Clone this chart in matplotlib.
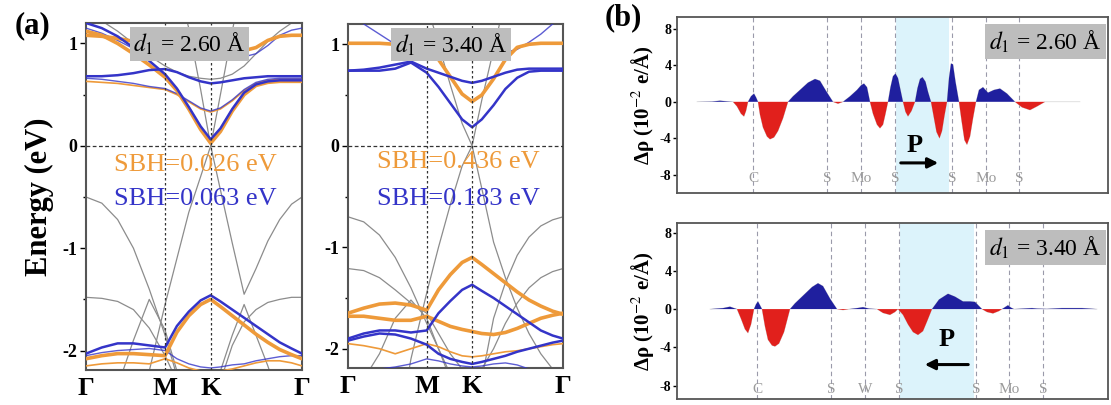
import numpy as np
import matplotlib.pyplot as plt

plt.rcParams['font.family'] = ['Liberation Serif', 'DejaVu Serif']
plt.rcParams['mathtext.fontset'] = 'stix'

ORANGE = '#ee9a3a'
BLUE = '#3434c8'
GRAY = '#8c8c8c'

# ---- (a) band structures, k-path G-M-K-G ----
k_path = [0.0, 0.2, 0.4, 0.6, 0.8, 1.0, 1.15, 1.3, 1.45, 1.577,
          1.7, 1.85, 2.0, 2.15, 2.3, 2.45, 2.6, 2.732]
k_ticks = [0.0, 1.0, 1.577, 2.732]
k_labels = ['Γ', 'M', 'K', 'Γ']

# d1 = 2.60 A
orange_260_thick = [
    [1.12, 1.08, 1.0, 0.9, 0.79, 0.67, 0.54, 0.36, 0.16, 0.026, 0.14, 0.34, 0.5, 0.59, 0.62, 0.63, 0.63, 0.63],
    [1.08, 1.07, 1.05, 1.02, 0.98, 0.93, 0.92, 0.95, 1.0, 1.03, 1.0, 0.96, 0.93, 0.96, 1.03, 1.07, 1.08, 1.08],
    [-2.08, -2.05, -2.03, -2.03, -2.04, -2.05, -1.82, -1.66, -1.55, -1.5, -1.57, -1.66, -1.75, -1.84, -1.92, -1.99, -2.04, -2.08],
]
orange_260_thin = [
    [0.63, 0.62, 0.61, 0.59, 0.57, 0.55, 0.5, 0.43, 0.36, 0.33, 0.36, 0.44, 0.54, 0.61, 0.64, 0.65, 0.65, 0.65],
    [-2.15, -2.13, -2.12, -2.12, -2.13, -2.08, -2.12, -2.17, -2.2, -2.21, -2.2, -2.18, -2.15, -2.12, -2.1, -2.1, -2.12, -2.15],
]
blue_260_thick = [
    [0.68, 0.68, 0.69, 0.71, 0.74, 0.75, 0.72, 0.67, 0.63, 0.61, 0.62, 0.64, 0.66, 0.67, 0.68, 0.68, 0.68, 0.68],
    [1.2, 1.15, 1.07, 0.96, 0.83, 0.7, 0.56, 0.38, 0.19, 0.063, 0.17, 0.36, 0.52, 0.6, 0.63, 0.64, 0.64, 0.64],
    [-2.03, -1.97, -1.93, -1.93, -1.95, -1.97, -1.76, -1.62, -1.51, -1.46, -1.52, -1.6, -1.68, -1.76, -1.84, -1.92, -1.98, -2.03],
]
blue_260_thin = [
    [0.66, 0.65, 0.63, 0.61, 0.58, 0.56, 0.51, 0.44, 0.37, 0.34, 0.37, 0.45, 0.55, 0.62, 0.65, 0.66, 0.66, 0.66],
    [-2.05, -2.02, -2.0, -1.99, -1.98, -2.0, -2.08, -2.13, -2.16, -2.17, -2.16, -2.14, -2.13, -2.1, -2.08, -2.06, -2.05, -2.05],
    [1.15, 1.1, 1.03, 0.95, 0.88, 0.84, 0.86, 0.92, 0.98, 1.02, 0.98, 0.92, 0.87, 0.9, 0.98, 1.08, 1.13, 1.15],
]
gray_260 = [
    [-0.5, -0.56, -0.72, -1.0, -1.4, -1.85, -2.25, -2.5, -2.5, -2.5, -2.5, -2.5, -2.5, -2.5, -2.5, -2.5, -2.5, -2.5],
    [-3.0, -3.0, -3.0, -3.0, -2.2, -1.55, -1.1, -0.65, -0.3, 0.0, 0.5, 1.12, 1.7, 2.2, 2.5, 2.5, 2.5, 2.5],
    [2.5, 2.5, 2.5, 2.5, 2.2, 1.9, 1.6, 1.15, 0.55, 0.0, -0.43, -0.95, -1.45, -1.2, -0.93, -0.72, -0.57, -0.5],
    [-1.48, -1.49, -1.52, -1.6, -1.78, -2.05, -2.3, -2.5, -2.5, -2.5, -2.3, -1.95, -1.72, -1.6, -1.53, -1.5, -1.48, -1.48],
    [-2.5, -2.5, -2.35, -1.9, -1.5, -1.8, -2.2, -2.5, -2.5, -2.5, -2.2, -1.85, -1.55, -1.85, -2.15, -2.5, -2.5, -2.5],
    [1.3, 1.22, 1.12, 1.0, 0.88, 0.78, 0.72, 0.68, 0.66, 0.65, 0.66, 0.7, 0.78, 0.9, 1.02, 1.12, 1.2, 1.25],
]

# d1 = 3.40 A
orange_340_thick = [
    [1.01, 1.01, 1.01, 1.0, 0.98, 0.94, 0.85, 0.68, 0.51, 0.436, 0.5, 0.66, 0.85, 0.97, 1.0, 1.01, 1.01, 1.01],
    [-1.65, -1.6, -1.56, -1.55, -1.57, -1.62, -1.42, -1.27, -1.15, -1.1, -1.17, -1.26, -1.35, -1.44, -1.52, -1.58, -1.63, -1.66],
    [-1.68, -1.68, -1.7, -1.72, -1.72, -1.68, -1.73, -1.78, -1.81, -1.83, -1.85, -1.86, -1.84, -1.8, -1.75, -1.7, -1.67, -1.65],
]
orange_340_thin = [
    [-1.95, -1.97, -2.0, -2.05, -2.0, -1.95, -1.98, -2.03, -2.07, -2.08, -2.07, -2.05, -2.03, -2.02, -2.0, -1.98, -1.96, -1.95],
]
blue_340_thick = [
    [0.74, 0.74, 0.74, 0.76, 0.82, 0.72, 0.58, 0.42, 0.26, 0.183, 0.26, 0.4, 0.56, 0.67, 0.73, 0.74, 0.74, 0.74],
    [0.74, 0.75, 0.77, 0.8, 0.83, 0.76, 0.72, 0.68, 0.64, 0.62, 0.64, 0.68, 0.72, 0.75, 0.76, 0.76, 0.76, 0.76],
    [-1.9, -1.85, -1.82, -1.82, -1.84, -1.82, -1.65, -1.53, -1.42, -1.37, -1.43, -1.5, -1.58, -1.66, -1.74, -1.82, -1.87, -1.9],
    [-1.92, -1.88, -1.85, -1.86, -1.9, -1.96, -2.05, -2.1, -2.13, -2.15, -2.13, -2.1, -2.07, -2.03, -2.0, -1.97, -1.94, -1.92],
]
blue_340_thin = [
    [1.3, 1.2, 1.1, 1.0, 0.92, 0.87, 0.88, 0.95, 1.05, 1.1, 1.05, 0.97, 0.92, 0.95, 1.02, 1.1, 1.2, 1.25],
    [-2.25, -2.22, -2.2, -2.18, -2.15, -2.1, -2.12, -2.15, -2.17, -2.18, -2.17, -2.15, -2.14, -2.16, -2.2, -2.22, -2.24, -2.25],
]
gray_340 = [
    [-3.0, -3.0, -3.0, -3.0, -2.1, -1.45, -1.0, -0.58, -0.2, 0.0, 0.45, 0.95, 1.45, 2.0, 2.5, 2.5, 2.5, 2.5],
    [2.5, 2.5, 2.5, 2.3, 1.9, 1.4, 1.0, 0.6, 0.22, 0.0, -0.42, -0.95, -1.3, -1.6, -1.85, -2.05, -2.2, -2.3],
    [-0.7, -0.75, -0.88, -1.1, -1.4, -1.75, -2.0, -2.25, -2.4, -2.45, -2.3, -1.7, -1.35, -1.08, -0.9, -0.79, -0.73, -0.7],
    [-1.21, -1.23, -1.3, -1.42, -1.55, -1.65, -1.85, -2.05, -2.2, -2.3, -2.2, -2.0, -1.75, -1.55, -1.4, -1.3, -1.24, -1.21],
    [-2.4, -2.3, -2.05, -1.7, -1.52, -1.7, -2.0, -2.3, -2.5, -2.5, -2.5, -2.5, -2.5, -2.5, -2.5, -2.5, -2.5, -2.5],
]

# ---- (b) plane-averaged charge difference ----
z_260 = [2.0, 3.5, 4.3, 5.0, 5.6, 6.0, 6.4, 6.7, 6.9, 7.1, 7.4, 7.7, 7.9, 8.1,
         8.3, 8.6, 9.0, 9.3, 9.7, 10.1, 10.6, 11.1, 11.6, 12.3, 13.1, 13.8, 14.3, 14.9, 15.6,
         16.1, 16.6, 17.3, 18.0, 18.4, 18.7, 19.0, 19.3, 19.6, 20.0, 20.3, 20.6, 20.85, 21.1,
         21.35, 21.6, 21.85, 22.1, 22.35, 22.6, 22.85, 23.1, 23.45, 23.8, 24.05, 24.3, 24.55, 24.85, 25.1, 25.4,
         25.65, 25.95, 26.25, 26.5, 26.75, 27.0, 27.2, 27.4, 27.6, 27.85, 28.2, 28.45, 28.75, 29.0, 29.3, 29.6, 29.9,
         30.2, 30.6, 31.1, 31.7, 32.3, 33.0, 33.8, 34.5, 35.3, 36.0, 36.8, 40.3]
drho_260 = [0, 0.03, 0.12, 0.05, 0, -0.5, -1.3, -1.6, -1.0, 0, 0.6, 0.9, 0.5, 0,
            -1.4, -2.8, -3.8, -4.1, -3.9, -3.2, -1.8, 0, 0.6, 1.3, 2.1, 2.5, 2.3, 1.2, 0,
            -0.2, 0, 0.6, 1.3, 1.8, 2.0, 1.6, 0, -1.3, -2.5, -2.9, -2.5, -1.3, 0,
            1.6, 2.8, 3.1, 2.6, 1.3, 0, -1.1, -1.6, -1.0, 0, 1.5, 2.5, 2.7, 2.2, 1.1, 0,
            -1.5, -3.3, -4.0, -3.2, -1.5, 0, 2.6, 4.2, 4.1, 2.2, 0, -2.0, -4.2, -4.7, -3.8, -1.8, 0,
            1.3, 1.6, 1.0, 1.3, 1.45, 0.9, 0, -0.6, -0.9, -0.5, 0, 0]
z_340 = [3.3, 4.6, 5.3, 5.7, 6.0, 6.4, 6.8, 7.1, 7.4, 7.7, 7.9, 8.1, 8.3, 8.5,
         8.8, 9.1, 9.5, 9.8, 10.2, 10.7, 11.3, 11.8, 12.6, 13.5, 14.1, 14.6, 15.3, 16.0,
         16.6, 17.2, 18.0, 18.6, 19.2, 20.0, 20.6, 21.3, 21.8, 22.1,
         22.6, 23.1, 23.6, 24.1, 24.6, 25.0, 25.5, 26.2, 27.1, 27.8, 28.6, 29.3, 29.8, 30.5,
         31.0, 31.6, 32.2, 32.5, 32.8, 33.1, 33.4, 33.7, 34.6, 35.5, 36.0, 37.0,
         38.5, 40.5, 42.0]
drho_340 = [0, 0.1, 0.25, 0.1, 0, -1.0, -2.1, -2.5, -1.6, 0, 0.5, 0.8, 0.4, 0,
            -1.8, -3.2, -3.8, -3.9, -3.6, -2.4, 0, 0.6, 1.4, 2.3, 2.7, 2.4, 1.1, 0,
            -0.1, 0, 0.1, 0.2, 0.05, 0, -0.4, -0.6, -0.3, 0,
            -0.6, -1.6, -2.4, -2.7, -2.3, -1.3, 0, 1.0, 1.6, 1.3, 0.8, 0.8, 0.75, 0,
            -0.3, -0.45, -0.2, 0, 0.2, 0.4, 0.15, 0, 0.05, 0.1, 0.05, 0.02,
            0.1, 0.1, 0]

atoms_260 = ['C', 'S', 'Mo', 'S', 'S', 'Mo', 'S']
atom_z_260 = [7.6, 15.0, 18.4, 21.8, 27.5, 30.9, 34.2]
atoms_340 = ['C', 'S', 'W', 'S', 'S', 'Mo', 'S']
atom_z_340 = [8.0, 15.4, 18.8, 22.2, 29.9, 33.2, 36.6]

W, H = 1111, 405
fig = plt.figure(figsize=(W / 100, H / 100), dpi=100)


def px_axes(left, top, right, bottom):
    return fig.add_axes([left / W, 1 - bottom / H, (right - left) / W, (bottom - top) / H])


def band_panel(ax, orange_thick, orange_thin, blue_thick, blue_thin, gray, label, sbh_o, sbh_b, sbh_pos):
    for b in gray:
        ax.plot(k_path, b, color=GRAY, lw=0.9, zorder=2)
    for b in orange_thin:
        ax.plot(k_path, b, color=ORANGE, lw=1.2, zorder=3)
    for b in blue_thin:
        ax.plot(k_path, b, color=BLUE, lw=1.0, alpha=0.8, zorder=3)
    for b in orange_thick:
        ax.plot(k_path, b, color=ORANGE, lw=2.6, zorder=4)
    for b in blue_thick:
        ax.plot(k_path, b, color=BLUE, lw=1.8, zorder=5)
    for kx in k_ticks[1:3]:
        ax.axvline(kx, color='#333333', lw=0.9, ls=(0, (2, 2)), zorder=6)
    ax.axhline(0, color='#333333', lw=0.9, ls=(0, (3, 2)), zorder=6)
    ax.set_xlim(0, k_ticks[-1])
    ax.set_ylim(-2.19, 1.2)
    ax.set_xticks(k_ticks)
    ax.set_xticklabels(k_labels, fontsize=19, fontweight='bold')
    ax.tick_params(axis='x', length=0, pad=5)
    ax.set_yticks([-2, -1, 0, 1])
    ax.set_yticklabels(['-2', '-1', '0', '1'], fontsize=13, fontweight='bold')
    ax.set_yticks([-1.5, -0.5, 0.5], minor=True)
    ax.tick_params(axis='y', which='major', length=4, width=1, direction='out', pad=2)
    ax.tick_params(axis='y', which='minor', length=2, width=1, direction='out')
    for s in ax.spines.values():
        s.set_color('#555555')
        s.set_linewidth(1.5)
    ax.text(0.48, 0.94, label, transform=ax.transAxes, ha='center', va='center',
            fontsize=17, zorder=8,
            bbox=dict(facecolor='#bdbdbd', edgecolor='none', boxstyle='square,pad=0.15'))
    ax.text(sbh_pos[0], sbh_pos[1], sbh_o, color=ORANGE, fontsize=19,
            ha='center', va='center', zorder=7)
    ax.text(sbh_pos[0], sbh_pos[2], sbh_b, color=BLUE, fontsize=19,
            ha='center', va='center', zorder=7)


ax1 = px_axes(86, 23, 302, 370)
band_panel(ax1, orange_260_thick, orange_260_thin, blue_260_thick, blue_260_thin, gray_260,
           r'$d_1$ = 2.60 Å', 'SBH=0.026 eV', 'SBH=0.063 eV', (1.38, -0.19, -0.52))
ax1.set_ylabel('Energy (eV)', fontsize=22, fontweight='bold', labelpad=6)

ax2 = px_axes(348, 24, 563, 368)
band_panel(ax2, orange_340_thick, orange_340_thin, blue_340_thick, blue_340_thin, gray_340,
           r'$d_1$ = 3.40 Å', 'SBH=0.436 eV', 'SBH=0.183 eV', (1.40, -0.16, -0.52))


def charge_panel(ax, z, drho, atoms, atom_z, shade, label, ylim, p_xy, arrow):
    z = np.array(z)
    drho = np.array(drho)
    ax.axvspan(shade[0], shade[1], color='#dcf3fb', lw=0, zorder=0)
    for a, za in zip(atoms, atom_z):
        ax.axvline(za, color='#9a9aaa', lw=0.8, ls=(0, (4, 3)), zorder=1)
        ax.text(za, -8.4, a, color='#9a9a9a', fontsize=11, ha='center', va='center', zorder=2)
    ax.fill_between(z, drho, 0, where=drho >= 0, interpolate=True, color='#1f1f9e', lw=0, zorder=3)
    ax.fill_between(z, drho, 0, where=drho <= 0, interpolate=True, color='#e1201c', lw=0, zorder=3)
    ax.plot(z, drho, color='#c8c8c8', lw=0.4, zorder=2)
    ax.set_xlim(0, 43.1)
    ax.set_ylim(*ylim)
    ax.set_xticks([])
    ax.set_yticks([-8, -4, 0, 4, 8])
    ax.set_yticklabels(['-8', '-4', '0', '4', '8'], fontsize=10, fontweight='bold')
    ax.tick_params(axis='y', length=3, width=1, direction='out', pad=1)
    for s in ax.spines.values():
        s.set_color('#555555')
        s.set_linewidth(1.3)
    ax.set_ylabel('Δρ (10$^{-2}$ e/Å)', fontsize=15, fontweight='bold', labelpad=3)
    ax.text(0.985, 0.86, label, transform=ax.transAxes, ha='right', va='center', fontsize=17,
            bbox=dict(facecolor='#bdbdbd', edgecolor='none', boxstyle='square,pad=0.18'))
    ax.text(p_xy[0], p_xy[1], 'P', fontsize=19, fontweight='bold', ha='center', va='center')
    ax.annotate('', xy=(arrow[1], arrow[2]), xytext=(arrow[0], arrow[2]),
                arrowprops=dict(arrowstyle='-|>,head_length=0.6,head_width=0.3', color='black', lw=2.2))


ax3 = px_axes(677, 17, 1108, 193)
charge_panel(ax3, z_260, drho_260, atoms_260, atom_z_260, (21.9, 27.2), r'$d_1$ = 2.60 Å',
             (-10.0, 9.3), (23.8, -4.8), (22.1, 26.4, -6.7))

ax4 = px_axes(677, 223, 1108, 399)
charge_panel(ax4, z_340, drho_340, atoms_340, atom_z_340, (22.3, 29.7), r'$d_1$ = 3.40 Å',
             (-9.4, 9.0), (27.0, -3.2), (29.4, 24.5, -5.8))

fig.text(33 / W, 1 - 26 / H, '(a)', fontsize=22, fontweight='bold', ha='center', va='center')
fig.text(623 / W, 1 - 18 / H, '(b)', fontsize=22, fontweight='bold', ha='center', va='center')

fig.savefig('out.png', dpi=100)
